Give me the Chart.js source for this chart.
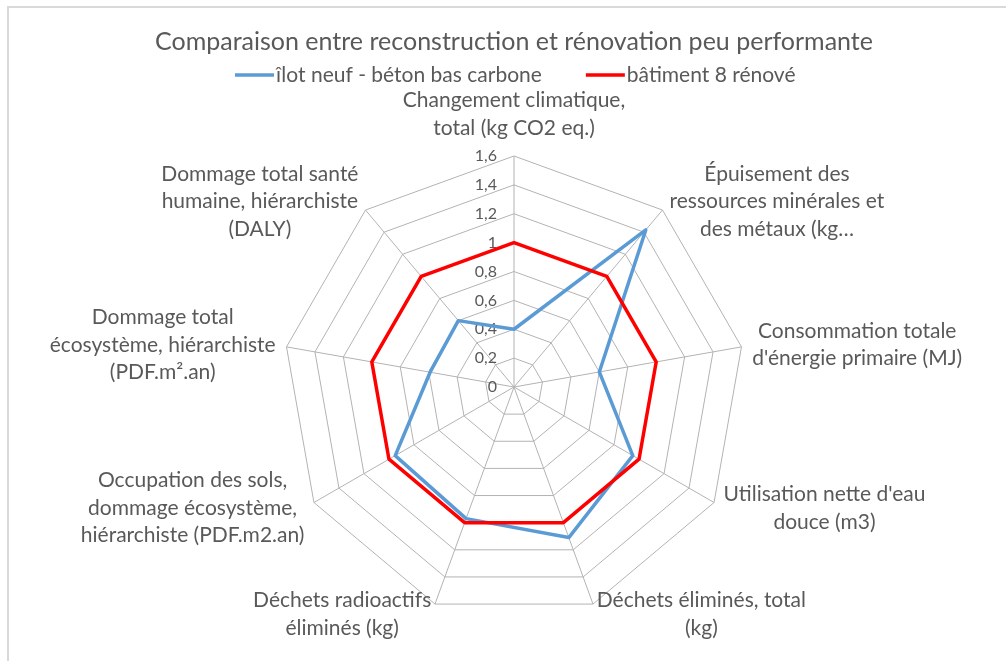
<!DOCTYPE html>
<html>
<head>
<meta charset="utf-8">
<script src="https://cdn.jsdelivr.net/npm/chart.js@4/dist/chart.umd.min.js"></script>
<style>
	body { margin: 0; overflow: hidden; background: #fff; }
	#cadre { position: absolute; left: 7px; top: 6px; width: 1020px; height: 680px; border: 2px solid #d9d9d9; }
	#grafico { position: absolute; left: 0; top: 0; }
</style>
</head>
<body>
<div id="cadre"></div>
<canvas id="grafico" width="1006" height="661"></canvas>
<script>
// dati
var categorie = [
	["Changement climatique,", "total (kg CO2 eq.)"],
	["Épuisement des", "ressources minérales et", "des métaux (kg…"],
	["Consommation totale", "d'énergie primaire (MJ)"],
	["Utilisation nette d'eau", "douce (m3)"],
	["Déchets éliminés, total", "(kg)"],
	["Déchets radioactifs", "éliminés (kg)"],
	["Occupation des sols,", "dommage écosystème,", "hiérarchiste (PDF.m2.an)"],
	["Dommage total", "écosystème, hiérarchiste", "(PDF.m².an)"],
	["Dommage total santé", "humaine, hiérarchiste", "(DALY)"]
];
var ilot_neuf = [0.4, 1.42, 0.6, 0.95, 1.11, 0.97, 0.95, 0.59, 0.6];
var batiment_8 = [1, 1, 1, 1, 1, 1, 1, 1, 1];
var tick_min = 0;
var tick_max = 1.6;
var tick_step = 0.2;

var titolo = 'Comparaison entre reconstruction et rénovation peu performante';
var nome_serie_1 = 'îlot neuf - béton bas carbone';
var nome_serie_2 = 'bâtiment 8 rénové';

var FONT = 'Lato, "Open Sans", sans-serif';
var GRIGIO_TESTO = '#595959';
var GRIGIO_GRIGLIA = '#b3b3b3';

function formatTick(v) {
	return String(Number(v.toFixed(1))).replace('.', ',');
}

// etichette dei punti, tick e legenda disegnati a mano (stile Excel)
var excelLabels = {
	id: 'excelLabels',
	beforeDatasetsDraw: function(chart) {
		var scale = chart.scales.r;
		var ctx = chart.ctx;
		ctx.save();
		ctx.font = '16px ' + FONT;
		ctx.fillStyle = GRIGIO_TESTO;
		ctx.textAlign = 'right';
		ctx.textBaseline = 'middle';
		scale.ticks.forEach(function(t) {
			var d = scale.getDistanceFromCenterForValue(t.value);
			ctx.fillText(formatTick(t.value), scale.xCenter - 17, scale.yCenter - d);
		});
		ctx.restore();
	},
	afterDraw: function(chart) {
		var scale = chart.scales.r;
		var ctx = chart.ctx;
		var lh = 27.5;
		ctx.save();
		ctx.font = '21px ' + FONT;
		ctx.fillStyle = GRIGIO_TESTO;
		ctx.textAlign = 'center';
		ctx.textBaseline = 'middle';
		categorie.forEach(function(righe, i) {
			var pos = scale.getPointPosition(i, scale.drawingArea + 11);
			var ang = scale.getIndexAngle(i);
			var s = Math.sin(ang);
			var w = 0;
			righe.forEach(function(r) { w = Math.max(w, ctx.measureText(r).width); });
			var cx, y0;
			if (Math.abs(s) < 0.01) {
				cx = pos.x;
				y0 = pos.y - 17 - (righe.length - 1) * lh;
			} else {
				cx = s > 0 ? pos.x + w / 2 : pos.x - w / 2;
				y0 = pos.y - (righe.length - 1) * lh / 2;
			}
			righe.forEach(function(r, k) {
				ctx.fillText(r, cx, y0 + k * lh);
			});
		});

		// legenda
		var x = 235, y = 75;
		ctx.font = '21px ' + FONT;
		ctx.textAlign = 'left';
		chart.data.datasets.forEach(function(ds) {
			ctx.strokeStyle = ds.borderColor;
			ctx.lineWidth = 3.5;
			ctx.beginPath();
			ctx.moveTo(x, y);
			ctx.lineTo(x + 39, y);
			ctx.stroke();
			x += 41;
			ctx.fillStyle = GRIGIO_TESTO;
			ctx.fillText(ds.label, x, y);
			x += ctx.measureText(ds.label).width + 44;
		});
		ctx.restore();
	}
};

var config_radar = {
	type: 'radar',
	data: {
		labels: categorie,
		datasets: [{
			label: nome_serie_1,
			data: ilot_neuf,
			borderColor: '#5b9bd5',
			backgroundColor: 'transparent',
			borderWidth: 3.5,
			pointRadius: 0,
			borderJoinStyle: 'round',
			fill: false,
			clip: false,
			order: 1
		}, {
			label: nome_serie_2,
			data: batiment_8,
			borderColor: '#ff0000',
			backgroundColor: 'transparent',
			borderWidth: 3.5,
			pointRadius: 0,
			borderJoinStyle: 'round',
			fill: false,
			clip: false,
			order: 0
		}]
	},
	options: {
		responsive: false,
		animation: false,
		layout: { padding: { left: 37, right: 15, top: 0, bottom: 42 } },
		plugins: {
			legend: { display: false },
			tooltip: { enabled: false },
			title: {
				display: true,
				text: titolo,
				color: GRIGIO_TESTO,
				font: { family: FONT, size: 25, weight: 'normal' },
				padding: { top: 27, bottom: 98.4 }
			}
		},
		scales: {
			r: {
				min: tick_min,
				max: tick_max,
				ticks: { stepSize: tick_step, display: false },
				grid: { color: GRIGIO_GRIGLIA, lineWidth: 1 },
				angleLines: { color: GRIGIO_GRIGLIA, lineWidth: 1 },
				pointLabels: { display: false }
			}
		}
	},
	plugins: [excelLabels]
};

var ctx_1 = document.getElementById('grafico').getContext('2d');
var grafico_radar = new Chart(ctx_1, config_radar);
</script>
</body>
</html>
